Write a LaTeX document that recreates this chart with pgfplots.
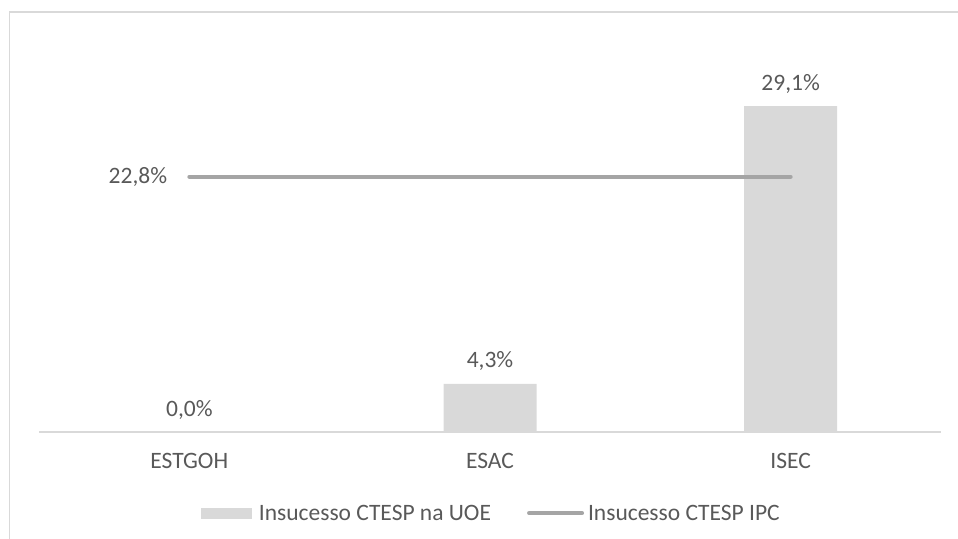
\documentclass[border=0pt]{standalone}
\usepackage{pgfplots}
\pgfplotsset{compat=1.18}
\usepackage{fontspec}
\setmainfont{Carlito}
\definecolor{barc}{HTML}{D9D9D9}
\definecolor{linec}{HTML}{A5A5A5}
\definecolor{txt}{HTML}{595959}
\definecolor{framec}{HTML}{D9D9D9}
\newcommand{\lbl}{\fontsize{23.5}{27}\selectfont}
\begin{document}
\begin{tikzpicture}[x=1pt,y=1pt]
\useasboundingbox (0,0) rectangle (958,538);
\draw[framec, line width=1.5pt] (9.5,-2) -- (9.5,526) -- (962,526);
\begin{axis}[
  at={(39pt,106pt)}, anchor=south west,
  scale only axis, width=902pt, height=392pt,
  xmin=-0.5, xmax=2.5, ymin=0, ymax=35,
  axis x line*=bottom, axis y line=none,
  x axis line style={barc, line width=1.5pt, -},
  xtick={0,1,2}, xticklabels={ESTGOH,ESAC,ISEC},
  major tick length=0pt, ytick=\empty,
  xticklabel style={anchor=base, yshift=-36pt, font=\lbl, text=txt},
  clip=false,
  legend style={draw=none, fill=none, legend columns=2,
    at={(0.5015,-0.207)}, anchor=center, font=\lbl, text=txt,
    /tikz/every even column/.append style={column sep=34pt}},
  legend cell align=left,
]
\addplot[ybar, bar width=93pt, fill=barc, draw=none,
  nodes near coords={\pgfmathprintnumber[use comma,fixed,fixed zerofill,precision=1,assume math mode=true]{\pgfplotspointmeta}\%},
  every node near coord/.append style={anchor=base, yshift=16pt, font=\lbl, text=txt},
  legend image code/.code={\fill[barc] (0pt,-5.5pt) rectangle (51pt,5.5pt); \path (56pt,0pt);}]
  coordinates {(0,0.0) (1,4.3) (2,29.1)};
\addlegendentry{Insucesso CTESP na UOE}
\addplot[linec, line width=4pt, line cap=round, mark=none,
  legend image code/.code={\draw[linec,line width=4pt,line cap=round] (2pt,0pt) -- (55pt,0pt); \path (57pt,0pt);}]
  coordinates {(0,22.8) (2,22.8)};
\addlegendentry{Insucesso CTESP IPC}
\node[anchor=east, inner sep=0pt, xshift=-22pt, font=\lbl, text=txt] at (axis cs:0,22.8) {22,8\%};
\end{axis}
\end{tikzpicture}
\end{document}
